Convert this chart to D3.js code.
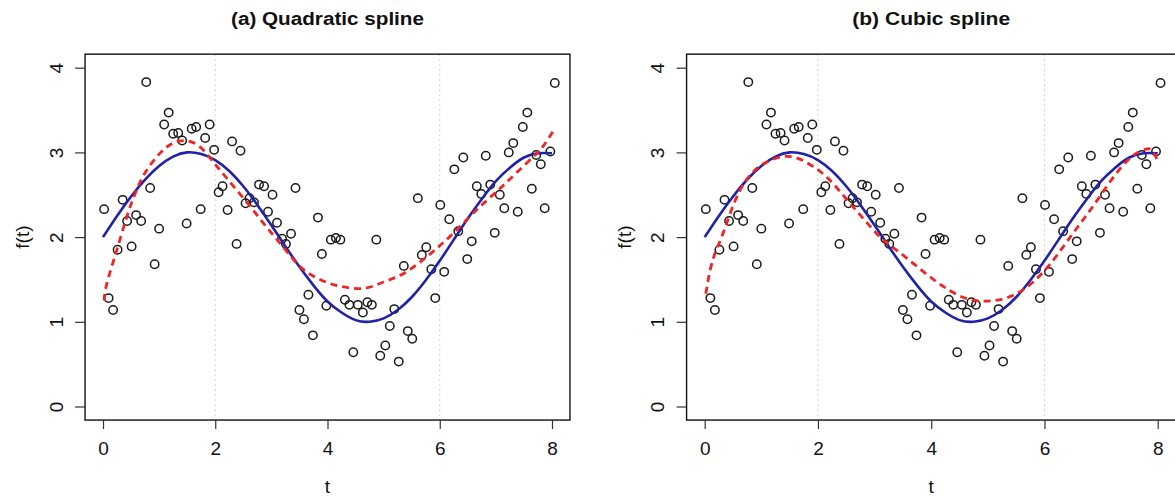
<!DOCTYPE html>
<html>
<head>
<meta charset="utf-8">
<script src="https://cdn.jsdelivr.net/npm/d3@7"></script>
<style>
  body { margin: 0; background: #fff; }
  svg text { font-family: "Liberation Sans", Arial, Helvetica, sans-serif; fill: #111; }
</style>
</head>
<body>
<div id="chart"></div>
<script>
// observed data points (t, f(t)) - same in both panels
const tObs = [0.02,0.10,0.18,0.26,0.35,0.43,0.51,0.59,0.68,0.77,
  0.84,0.92,1.00,1.09,1.17,1.25,1.34,1.41,1.49,1.58,
  1.66,1.74,1.82,1.90,1.98,2.06,2.13,2.22,2.30,2.38,
  2.45,2.54,2.61,2.69,2.78,2.87,2.94,3.02,3.10,3.19,
  3.26,3.35,3.43,3.50,3.58,3.66,3.74,3.83,3.90,3.98,
  4.06,4.15,4.23,4.31,4.39,4.46,4.54,4.63,4.71,4.79,
  4.87,4.94,5.03,5.11,5.19,5.27,5.36,5.43,5.51,5.61,
  5.68,5.76,5.85,5.92,6.01,6.08,6.17,6.26,6.33,6.42,
  6.49,6.57,6.66,6.74,6.82,6.90,6.98,7.07,7.15,7.23,
  7.31,7.39,7.48,7.56,7.64,7.72,7.80,7.87,7.97,8.05];
const yObs = [2.33,1.28,1.14,1.85,2.44,2.19,1.89,2.26,2.19,3.83,
  2.58,1.68,2.10,3.33,3.47,3.22,3.23,3.14,2.16,3.28,
  3.30,2.33,3.17,3.33,3.03,2.53,2.60,2.32,3.13,1.92,
  3.02,2.40,2.46,2.41,2.62,2.60,2.30,2.50,2.17,1.98,
  1.92,2.04,2.58,1.14,1.03,1.32,0.84,2.23,1.80,1.19,
  1.97,1.99,1.97,1.26,1.20,0.64,1.20,1.11,1.23,1.20,
  1.97,0.60,0.72,0.95,1.15,0.53,1.66,0.89,0.80,2.46,
  1.79,1.88,1.62,1.28,2.38,1.59,2.21,2.80,2.07,2.94,
  1.74,1.95,2.60,2.51,2.96,2.62,2.05,2.50,2.34,3.00,
  3.11,2.30,3.30,3.47,2.57,2.97,2.86,2.34,3.01,3.82];

// true curve (blue)
const tTrue = [0,0.25,0.5,0.75,1,1.25,1.5,1.75,2,2.25,2.5,2.75,3,3.25,3.5,3.75,4,
  4.25,4.5,4.75,5,5.25,5.5,5.75,6,6.25,6.5,6.75,7,7.25,7.5,7.75,8];
const yTrue = [2.00,2.25,2.48,2.68,2.84,2.95,3.00,2.98,2.91,2.78,2.60,2.38,2.14,1.89,1.65,1.43,1.24,
  1.11,1.02,1.00,1.04,1.14,1.29,1.49,1.72,1.97,2.22,2.45,2.66,2.82,2.94,2.99,2.99];

// quadratic spline fit (red dashed, panel a)
const tQuad = [0.02,0.05,0.15,0.27,0.42,0.57,0.75,1.0,1.22,1.45,1.7,1.9,2.06,2.3,2.6,2.9,3.2,3.5,3.8,4.1,
  4.4,4.7,5.0,5.3,5.6,5.9,6.2,6.5,6.8,7.1,7.4,7.7,7.85,8.02];
const yQuad = [1.25,1.40,1.64,1.90,2.23,2.51,2.76,2.98,3.10,3.14,3.08,2.94,2.81,2.62,2.38,2.13,1.89,1.66,1.52,1.44,
  1.40,1.40,1.47,1.55,1.68,1.84,2.02,2.22,2.41,2.59,2.78,2.97,3.08,3.25];

// cubic spline fit (red dashed, panel b)
const tCubic = [0.02,0.1,0.2,0.3,0.45,0.62,0.8,1.0,1.3,1.6,1.9,2.2,2.5,2.8,3.1,3.4,3.7,4.0,
  4.3,4.6,4.9,5.2,5.5,5.8,6.1,6.4,6.7,7.0,7.3,7.6,7.8,7.9,8.02];
const yCubic = [1.33,1.62,1.84,2.00,2.28,2.55,2.73,2.85,2.94,2.94,2.84,2.68,2.45,2.22,2.00,1.84,1.68,1.52,
  1.38,1.28,1.245,1.26,1.33,1.47,1.68,1.95,2.22,2.50,2.78,2.98,3.04,3.02,2.88];

const xTicks = [0, 2, 4, 6, 8];
const yTicks = [0, 1, 2, 3, 4];
const knots = [2, 6];
const titles = ["(a) Quadratic spline", "(b) Cubic spline"];

const width = 1175, height = 496;
const svg = d3.select("#chart").append("svg")
  .attr("width", width)
  .attr("height", height);

const panels = [
  { title: titles[0], x0: 103, x8: 552, titleW: 193, fitT: tQuad, fitY: yQuad },
  { title: titles[1], x0: 704.7, x8: 1157.7, titleW: 158, fitT: tCubic, fitY: yCubic }
];

const y = d3.scaleLinear().domain([0, 4]).range([406.5, 67.7]);
const yTop = y(4.16), yBot = y(-0.16);

panels.forEach(p => {
  const x = d3.scaleLinear().domain([0, 8]).range([p.x0, p.x8]);
  const xL = x(-0.32), xR = x(8.32);
  const g = svg.append("g");

  // knot lines
  g.selectAll(".knot")
    .data(knots)
    .enter()
    .append("line")
    .attr("x1", d => x(d)).attr("x2", d => x(d))
    .attr("y1", yTop).attr("y2", yBot)
    .attr("stroke", "#cfcfcf")
    .attr("stroke-width", 1)
    .attr("stroke-dasharray", "2,3");

  // points
  g.selectAll(".pt")
    .data(tObs.map((t, i) => [t, yObs[i]]))
    .enter()
    .append("circle")
    .attr("cx", d => x(d[0]))
    .attr("cy", d => y(d[1]))
    .attr("r", 4.2)
    .attr("fill", "none")
    .attr("stroke", "#1a1a1a")
    .attr("stroke-width", 1.5);

  // true function
  const line = d3.line().x(d => x(d[0])).y(d => y(d[1])).curve(d3.curveNatural);
  g.append("path")
    .datum(tTrue.map((t, i) => [t, yTrue[i]]))
    .attr("d", line)
    .attr("fill", "none")
    .attr("stroke", "#1f22a8")
    .attr("stroke-width", 2.6);

  // spline fit
  g.append("path")
    .datum(p.fitT.map((t, i) => [t, p.fitY[i]]))
    .attr("d", line)
    .attr("fill", "none")
    .attr("stroke", "#f02424")
    .attr("stroke-width", 2.8)
    .attr("stroke-dasharray", "7,5");

  // box
  g.append("rect")
    .attr("x", xL).attr("y", yTop)
    .attr("width", xR - xL).attr("height", yBot - yTop)
    .attr("fill", "none")
    .attr("stroke", "#111")
    .attr("stroke-width", 1.4);

  // x axis
  const ax = g.append("g")
    .attr("transform", `translate(0,${yBot})`)
    .call(d3.axisBottom(x).tickValues(xTicks).tickSize(9).tickPadding(6).tickFormat(d3.format("d")));
  ax.select(".domain").remove();
  ax.selectAll(".tick line").attr("stroke", "#333").attr("stroke-width", 1.2);
  ax.selectAll(".tick text")
    .attr("y", 35).attr("dy", null)
    .style("font-size", "19px")
    .style("font-family", "'Liberation Sans', Arial, sans-serif")
    .attr("fill", "#111");

  // y axis
  const ay = g.append("g")
    .attr("transform", `translate(${xL},0)`)
    .call(d3.axisLeft(y).tickValues(yTicks).tickSize(10).tickFormat(d3.format("d")));
  ay.select(".domain").remove();
  ay.selectAll(".tick line").attr("stroke", "#333").attr("stroke-width", 1.2);
  ay.selectAll(".tick text")
    .attr("x", null).attr("dy", null)
    .attr("text-anchor", "middle")
    .attr("transform", "translate(-22.5,0) rotate(-90)")
    .style("font-size", "19px")
    .style("font-family", "'Liberation Sans', Arial, sans-serif")
    .attr("fill", "#111");

  const cx = (xL + xR) / 2;
  // title
  g.append("text")
    .attr("x", cx).attr("y", 24.5)
    .attr("text-anchor", "middle")
    .attr("font-weight", "bold")
    .attr("font-size", "18px")
    .attr("textLength", p.titleW)
    .attr("lengthAdjust", "spacingAndGlyphs")
    .text(p.title);

  // axis titles
  g.append("text")
    .attr("x", cx).attr("y", 493)
    .attr("text-anchor", "middle")
    .attr("font-size", "19px")
    .text("t");

  g.append("text")
    .attr("transform", `translate(${xL - 56},${(yTop + yBot) / 2}) rotate(-90)`)
    .attr("text-anchor", "middle")
    .attr("font-size", "19px")
    .text("f(t)");
});
</script>
</body>
</html>
